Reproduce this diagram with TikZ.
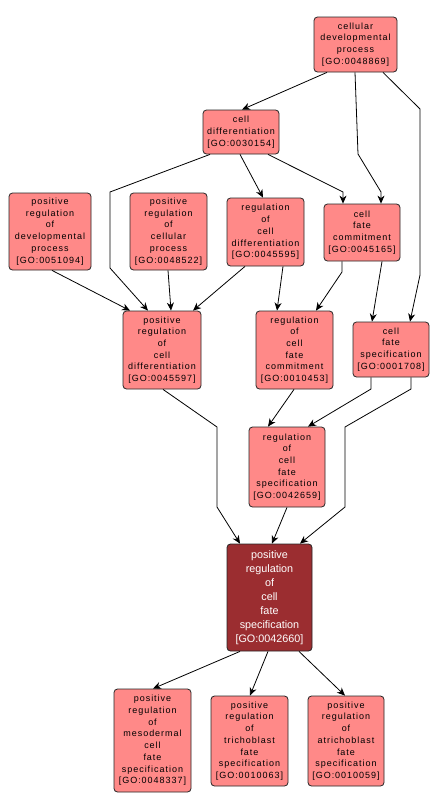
\documentclass[tikz,border=0pt]{standalone}
\usepackage{fontspec}
\usetikzlibrary{arrows.meta}
\newfontfamily\gofont{Liberation Sans}[LetterSpace=11]
\newfontfamily\gotfont{Liberation Sans}
\definecolor{gofill}{RGB}{255,137,136}
\definecolor{gotarget}{RGB}{155,45,48}
\tikzset{
  gobox/.style={draw=black!85, line width=0.8pt, fill=gofill, rounded corners=3.5pt,
    align=center, inner sep=0pt, font=\gofont\fontsize{9}{11.7}\selectfont, text=black},
  gotgt/.style={gobox, fill=gotarget, text=white, font=\gotfont\fontsize{10.8}{14}\selectfont},
  arr/.style={draw=black, line width=0.8pt, -{Stealth[length=8pt,width=7pt,inset=2.5pt]}}
}
\begin{document}
\begin{tikzpicture}[x=1pt,y=-1pt]
\useasboundingbox[fill=white] (0,0) rectangle (440,811);
\node[gobox, minimum width=83pt, minimum height=55pt] (cdp) at (355.5,44.5) {cellular\\developmental\\process\\{[}GO:0048869{]}};
\node[gobox, minimum width=76pt, minimum height=44pt] (cd) at (241,132) {cell\\differentiation\\{[}GO:0030154{]}};
\node[gobox, minimum width=82pt, minimum height=77pt] (prdp) at (50,231.5) {positive\\regulation\\of\\developmental\\process\\{[}GO:0051094{]}};
\node[gobox, minimum width=77pt, minimum height=77pt] (prcp) at (168.5,231.5) {positive\\regulation\\of\\cellular\\process\\{[}GO:0048522{]}};
\node[gobox, minimum width=77pt, minimum height=68pt] (rcd) at (265.5,232) {regulation\\of\\cell\\differentiation\\{[}GO:0045595{]}};
\node[gobox, minimum width=76pt, minimum height=57pt] (cfc) at (362,232.5) {cell\\fate\\commitment\\{[}GO:0045165{]}};
\node[gobox, minimum width=78pt, minimum height=78pt] (prcd) at (162,350) {positive\\regulation\\of\\cell\\differentiation\\{[}GO:0045597{]}};
\node[gobox, minimum width=77pt, minimum height=78pt] (rcfc) at (294.5,350) {regulation\\of\\cell\\fate\\commitment\\{[}GO:0010453{]}};
\node[gobox, minimum width=76pt, minimum height=55pt] (cfs) at (391,349.5) {cell\\fate\\specification\\{[}GO:0001708{]}};
\node[gobox, minimum width=76pt, minimum height=80pt] (rcfs) at (287,467) {regulation\\of\\cell\\fate\\specification\\{[}GO:0042659{]}};
\node[gotgt, minimum width=85pt, minimum height=107pt] (tgt) at (269.5,597.5) {positive\\regulation\\of\\cell\\fate\\specification\\{[}GO:0042660{]}};
\node[gobox, minimum width=77pt, minimum height=103pt] (mes) at (152.5,740.5) {positive\\regulation\\of\\mesodermal\\cell\\fate\\specification\\{[}GO:0048337{]}};
\node[gobox, minimum width=77pt, minimum height=90pt] (tri) at (249.5,741) {positive\\regulation\\of\\trichoblast\\fate\\specification\\{[}GO:0010063{]}};
\node[gobox, minimum width=76pt, minimum height=90pt] (atri) at (346,741) {positive\\regulation\\of\\atrichoblast\\fate\\specification\\{[}GO:0010059{]}};
% edges
\draw[arr] ([xshift=-28.5pt]cdp.south) -- ([xshift=1pt]cd.north);
\draw[arr] ([xshift=-0.5pt]cdp.south) -- (358,154) -- (381,192) -- ([xshift=19pt]cfc.north);
\draw[arr] ([xshift=27.5pt]cdp.south) -- (420,109) -- (420,275) -- ([xshift=19pt]cfs.north);
\draw[arr] ([xshift=-31pt]cd.south) -- (110,192) -- (110,268) -- ([xshift=-14pt]prcd.north);
\draw[arr] ([xshift=-1pt]cd.south) -- ([xshift=-2.5pt]rcd.north);
\draw[arr] ([xshift=27pt]cd.south) -- (343,192) -- ([xshift=-19pt]cfc.north);
\draw[arr] ([xshift=2pt]prdp.south) -- ([xshift=-32pt]prcd.north);
\draw[arr] ([xshift=-0.5pt]prcp.south) -- ([xshift=9pt]prcd.north);
\draw[arr] ([xshift=-20.5pt]rcd.south) -- ([xshift=31pt]prcd.north);
\draw[arr] ([xshift=17.5pt]rcd.south) -- ([xshift=-17.5pt]rcfc.north);
\draw[arr] ([xshift=-20pt]cfc.south) -- (342,272) -- ([xshift=21.5pt]rcfc.north);
\draw[arr] ([xshift=20pt]cfc.south) -- ([xshift=-19pt]cfs.north);
\draw[arr] ([xshift=1pt]prcd.south) -- (217,427) -- (217,507) -- ([xshift=-29.5pt]tgt.north);
\draw[arr] ([xshift=-0.5pt]rcfc.south) -- ([xshift=-19pt]rcfs.north);
\draw[arr] ([xshift=-20pt]cfs.south) -- (371,389) -- ([xshift=21pt]rcfs.north);
\draw[arr] ([xshift=20pt]cfs.south) -- (411,389) -- (345,427) -- (345,507) -- ([xshift=30.5pt]tgt.north);
\draw[arr] (rcfs.south) -- ([xshift=2.5pt]tgt.north);
\draw[arr] ([xshift=-29.5pt]tgt.south) -- ([xshift=0.5pt]mes.north);
\draw[arr] ([xshift=-1.5pt]tgt.south) -- ([xshift=0.5pt]tri.north);
\draw[arr] ([xshift=29.5pt]tgt.south) -- ([xshift=-1pt]atri.north);
\end{tikzpicture}
\end{document}
